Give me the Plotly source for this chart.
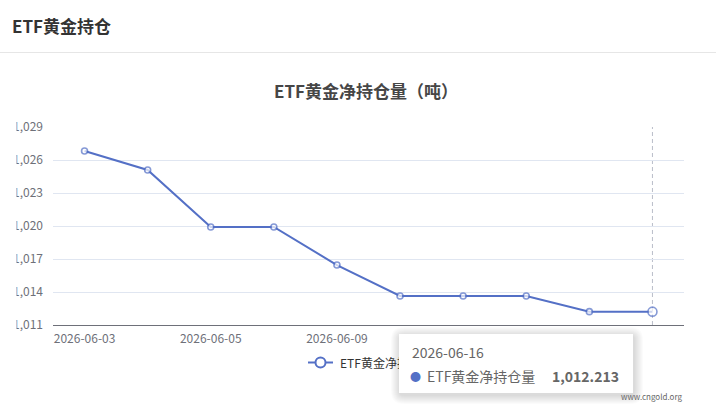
import plotly.graph_objects as go

# ---- data ----
dates = ["2026-06-03", "2026-06-04", "2026-06-05", "2026-06-08", "2026-06-09",
         "2026-06-10", "2026-06-11", "2026-06-12", "2026-06-15", "2026-06-16"]
values = [1026.82, 1025.09, 1019.91, 1019.91, 1016.45,
          1013.64, 1013.64, 1013.64, 1012.213, 1012.213]
series_name = "ETF黄金净持仓量"
page_title = "ETF黄金持仓"
chart_title = "ETF黄金净持仓量（吨）"
y_min, y_max, y_step = 1011, 1029, 3
watermark = "www.cngold.org"

# ---- layout geometry (pixels) ----
WIDTH, HEIGHT = 716, 419
PL, PR, PT, PB = 53, 684, 127, 325
PW, PH = PR - PL, PB - PT

def px(x):
    return (x - PL) / PW

def py(y):
    return (PB - y) / PH

FONT = "Noto Sans CJK SC, Noto Sans, sans-serif"
BLUE = "#5470c6"
AX = "#6E7079"

def rrect(x0, y0, x1, y1, r):
    # rounded rectangle path in paper coords from pixel values
    pts = [
        f"M {px(x0 + r)} {py(y0)}",
        f"L {px(x1 - r)} {py(y0)}",
        f"Q {px(x1)} {py(y0)} {px(x1)} {py(y0 + r)}",
        f"L {px(x1)} {py(y1 - r)}",
        f"Q {px(x1)} {py(y1)} {px(x1 - r)} {py(y1)}",
        f"L {px(x0 + r)} {py(y1)}",
        f"Q {px(x0)} {py(y1)} {px(x0)} {py(y1 - r)}",
        f"L {px(x0)} {py(y0 + r)}",
        f"Q {px(x0)} {py(y0)} {px(x0 + r)} {py(y0)}",
        "Z",
    ]
    return " ".join(pts)

n = len(values)
sizes = [6] * (n - 1) + [9]

fig = go.Figure()
fig.add_trace(go.Scatter(
    x=dates, y=values, mode="lines+markers", name=series_name,
    line=dict(color=BLUE, width=2),
    marker=dict(size=sizes, color="white", line=dict(color=BLUE, width=1.6)),
    cliponaxis=False, showlegend=False, hoverinfo="skip",
))

shapes = []
# header separator
shapes.append(dict(type="line", xref="paper", yref="paper",
                   x0=px(0), x1=px(WIDTH), y0=py(52.5), y1=py(52.5),
                   line=dict(color="#E6E6E6", width=1), layer="above"))
# axis pointer (dashed)
shapes.append(dict(type="line", xref="x", yref="paper",
                   x0=n - 1, x1=n - 1, y0=0, y1=1,
                   line=dict(color="#B9BEC9", width=1, dash="4px,3px"), layer="below"))
# left clipping of the y labels
shapes.append(dict(type="rect", xref="paper", yref="paper",
                   x0=px(-5), x1=px(16.5), y0=py(100), y1=py(345),
                   fillcolor="white", line=dict(width=0), layer="above"))
# legend icon
shapes.append(dict(type="line", xref="paper", yref="paper",
                   x0=px(308), x1=px(333), y0=py(362.5), y1=py(362.5),
                   line=dict(color=BLUE, width=2), layer="above"))
shapes.append(dict(type="circle", xref="paper", yref="paper",
                   x0=px(315.5), x1=px(325.5), y0=py(357.5), y1=py(367.5),
                   fillcolor="white", line=dict(color=BLUE, width=2), layer="above"))
# tooltip shadow
bx0, by0, bx1, by1 = 399, 334, 633, 393
for k in range(9, 0, -1):
    shapes.append(dict(type="path", xref="paper", yref="paper",
                       path=rrect(bx0 - k + 1, by0 - k + 2, bx1 + k + 1, by1 + k + 2, 4 + k),
                       fillcolor="rgba(0,0,0,0.016)", line=dict(width=0), layer="above"))

annotations = []
annotations.append(dict(xref="paper", yref="paper", x=px(10), y=py(25),
                        xanchor="left", yanchor="middle", showarrow=False,
                        text=f"<b>{page_title}</b>",
                        font=dict(family=FONT, size=17, color="#333333")))
annotations.append(dict(xref="paper", yref="paper", x=px(365.5), y=py(91),
                        xanchor="center", yanchor="middle", showarrow=False,
                        text=f"<b>{chart_title}</b>",
                        font=dict(family=FONT, size=17, color="#464646")))
annotations.append(dict(xref="paper", yref="paper", x=px(338), y=py(362.5),
                        xanchor="left", yanchor="middle", showarrow=False,
                        text=series_name,
                        font=dict(family=FONT, size=12, color="#333333")))
# tooltip box
annotations.append(dict(xref="paper", yref="paper", x=px(bx0), y=py(by0),
                        xanchor="left", yanchor="top", showarrow=False,
                        text=" ", width=bx1 - bx0, height=by1 - by0,
                        bgcolor="white", borderpad=0, borderwidth=0,
                        font=dict(family=FONT, size=12, color="white")))
annotations.append(dict(xref="paper", yref="paper", x=px(410), y=py(352),
                        xanchor="left", yanchor="middle", showarrow=False,
                        text=dates[-1],
                        font=dict(family=FONT, size=14, color="#666666")))
annotations.append(dict(xref="paper", yref="paper", x=px(415), y=py(376),
                        xanchor="center", yanchor="middle", showarrow=False,
                        text="●",
                        font=dict(family=FONT, size=11, color=BLUE)))
annotations.append(dict(xref="paper", yref="paper", x=px(425), y=py(376),
                        xanchor="left", yanchor="middle", showarrow=False,
                        text=series_name,
                        font=dict(family=FONT, size=14, color="#666666")))
annotations.append(dict(xref="paper", yref="paper", x=px(621), y=py(376),
                        xanchor="right", yanchor="middle", showarrow=False,
                        text=f"<b>{values[-1]:,.3f}</b>",
                        font=dict(family=FONT, size=14, color="#666666")))
annotations.append(dict(xref="paper", yref="paper", x=px(684), y=py(396),
                        xanchor="right", yanchor="middle", showarrow=False,
                        text=watermark,
                        font=dict(family=FONT, size=8, color="#666666")))

fig.update_layout(
    width=WIDTH, height=HEIGHT,
    margin=dict(l=PL, r=WIDTH - PR, t=PT, b=HEIGHT - PB, pad=0),
    paper_bgcolor="white", plot_bgcolor="white",
    font=dict(family=FONT, size=12, color=AX),
    showlegend=False,
    shapes=shapes, annotations=annotations,
    xaxis=dict(type="category", range=[-0.5, n - 0.5],
               tickvals=dates[::2], ticktext=dates[::2],
               showgrid=False, zeroline=False, showline=True,
               linecolor=AX, linewidth=1, ticks="",
               tickfont=dict(family=FONT, size=12, color=AX),
               ticklabelstandoff=3, fixedrange=True),
    yaxis=dict(range=[y_min, y_max], tick0=y_min, dtick=y_step,
               tickformat=",d", showgrid=True, gridcolor="#E0E6F1",
               gridwidth=1, zeroline=False, showline=False, ticks="",
               tickfont=dict(family=FONT, size=12, color=AX),
               ticklabelstandoff=9, fixedrange=True),
)

fig.write_html("out.html")
